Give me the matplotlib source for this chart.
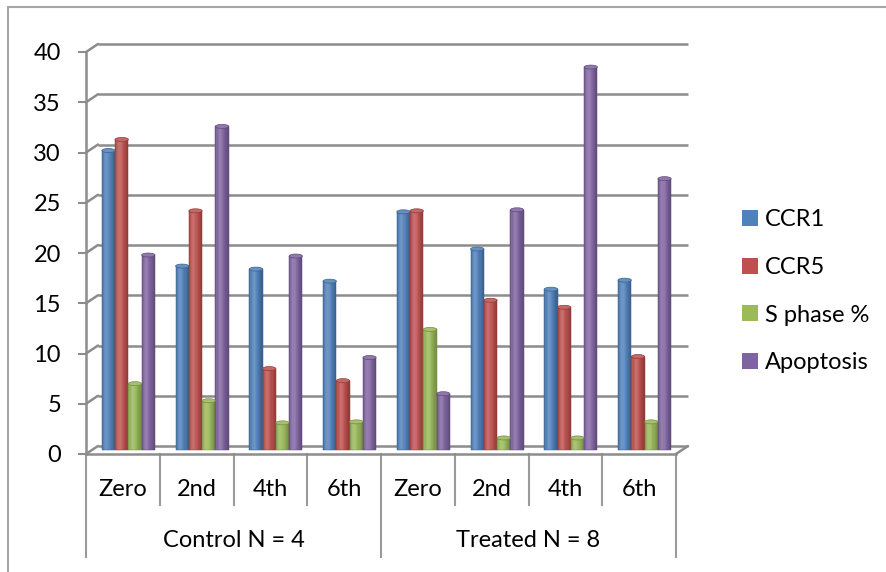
import numpy as np
import matplotlib
matplotlib.use("Agg")
import matplotlib.pyplot as plt
from matplotlib.patches import Ellipse, Patch, ConnectionPatch, Rectangle
from matplotlib.transforms import ScaledTranslation, blended_transform_factory
from matplotlib.colors import to_rgb

plt.rcParams['font.family'] = ['Lato', 'DejaVu Sans']

weeks = ["Zero", "2nd", "4th", "6th"]
groups = ["Control N = 4", "Treated N = 8"]
series = ["CCR1", "CCR5", "S phase %", "Apoptosis"]

ccr1 = [29.8, 18.3, 18.0, 16.8, 23.7, 20.0, 16.0, 16.9]
ccr5 = [30.9, 23.8, 8.1, 6.9, 23.8, 14.9, 14.2, 9.3]
s_phase = [6.6, 4.9, 2.7, 2.8, 12.0, 1.2, 1.2, 2.8]
apoptosis = [19.4, 32.2, 19.3, 9.2, 5.6, 23.9, 38.1, 27.0]

colors = ["#4F81BD", "#C0504D", "#9BBB59", "#8064A2"]
grid_col = "#8c8c8c"
FS = 17


def shade(c, t):
    # fake cylinder lighting: highlight left of centre, dark rims
    c = np.array(to_rgb(c))
    hi = 0.18 * np.exp(-((t - 0.35) / 0.25) ** 2)
    lo = 0.28 * t ** 3 + 0.2 * (1 - t) ** 8
    c = c + (1 - c) * hi
    return np.clip(c * (1 - lo), 0, 1)


fig = plt.figure(figsize=(8.86, 5.72), dpi=100)
ax = fig.add_axes([86 / 886, 1 - 454 / 572, 590 / 886, 402 / 572])
ax.set_xlim(-0.5, 7.5)
ax.set_ylim(0, 40)

# back wall sits up/right of the front plane, bars half way
back = ax.transData + ScaledTranslation(12 / 100, 8 / 100, fig.dpi_scale_trans)
mid = ax.transData + ScaledTranslation(5.5 / 100, 4 / 100, fig.dpi_scale_trans)

for v in range(0, 45, 5):
    ax.plot([-0.5, 7.5], [v, v], transform=back, color=grid_col, lw=1.8,
            zorder=1, clip_on=False, solid_capstyle='butt')
    cp = ConnectionPatch(xyA=(-0.5, v), coordsA=ax.transData,
                         xyB=(-0.5, v), coordsB=back, color=grid_col, lw=1.8)
    ax.add_artist(cp)
cp = ConnectionPatch(xyA=(7.5, 0), coordsA=ax.transData,
                     xyB=(7.5, 0), coordsB=back, color=grid_col, lw=1.8)
ax.add_artist(cp)

x = np.arange(len(weeks) * len(groups))
w = 0.18
nstrip = 12
values = [ccr1, ccr5, s_phase, apoptosis]
for k, (vals, col) in enumerate(zip(values, colors)):
    xc = x + (k - 1.5) * w
    dark = np.array(to_rgb(col)) * 0.75
    for j in range(nstrip):
        t = (j + 0.5) / nstrip
        ax.bar(xc - w / 2 + t * w, vals, width=w / nstrip * 1.05,
               color=shade(col, t), linewidth=0, transform=mid,
               zorder=3, clip_on=False)
    ax.bar(xc, vals, width=w, fill=False, edgecolor=dark, linewidth=0.35,
           transform=mid, zorder=3, clip_on=False)
    for xi, v in zip(xc, vals):
        cap = Ellipse((xi, v), w, 0.4, facecolor=shade(col, 0.45),
                      edgecolor=dark, linewidth=0.5, transform=mid,
                      zorder=4, clip_on=False)
        ax.add_patch(cap)

for s in ['top', 'right']:
    ax.spines[s].set_visible(False)
for s in ['left', 'bottom']:
    ax.spines[s].set_color(grid_col)
    ax.spines[s].set_linewidth(1.8)
ax.set_xticks([])
ax.set_yticks(range(0, 45, 5))
ax.tick_params(axis='y', length=6, width=1.5, color=grid_col,
               labelsize=FS, pad=12)
ax.patch.set_visible(False)

# two-level category axis
tr = blended_transform_factory(ax.transData, ax.transAxes)
for i in range(len(x) + 1):
    low = -0.256 if i % 4 == 0 else -0.127
    ax.plot([i - 0.5, i - 0.5], [0, low], transform=tr, color="#9a9a9a",
            lw=1.5, clip_on=False)
for i in x:
    ax.text(i, -0.089, weeks[i % 4], transform=tr, ha='center', va='center',
            fontsize=FS)
for g, name in enumerate(groups):
    ax.text(g * 4 + 1.5, -0.214, name, transform=tr, ha='center',
            va='center', fontsize=FS)

handles = [Patch(facecolor=c, edgecolor='none') for c in colors]
fig.legend(handles, series, loc='upper left',
           bbox_to_anchor=(721 / 886, 1 - 188 / 572), frameon=False,
           fontsize=FS, handlelength=0.65, handleheight=0.65,
           handletextpad=0.3, labelspacing=1.13)

fig.add_artist(Rectangle((8 / 886, -0.2), 1.2, 1.2 - 7 / 572,
                         transform=fig.transFigure, fill=False,
                         edgecolor="#a6a6a6", linewidth=1.5))

fig.savefig("out.png", dpi=100)
